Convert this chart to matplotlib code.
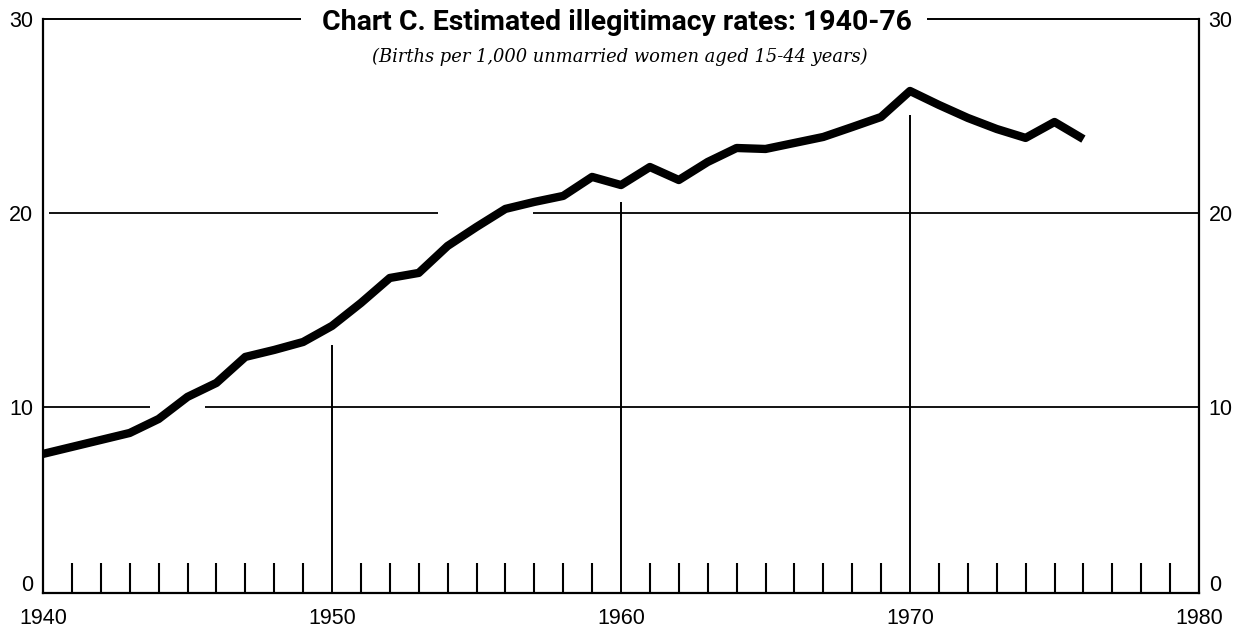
import matplotlib
matplotlib.use("Agg")
import matplotlib.pyplot as plt
from matplotlib.ticker import MultipleLocator

# illegitimacy rate, births per 1,000 unmarried women 15-44
years = list(range(1940, 1977))
rates = [7.58, 7.94, 8.30, 8.66, 9.38, 10.52, 11.24, 12.58, 12.94, 13.35,
         14.18, 15.36, 16.65, 16.91, 18.30, 19.28, 20.21, 20.57, 20.88, 21.86,
         21.44, 22.37, 21.70, 22.63, 23.35, 23.30, 23.61, 23.92, 24.43, 24.95,
         26.29, 25.57, 24.90, 24.33, 23.87, 24.69, 23.81]

# decade rules and the height they reach
decades = [1950, 1960, 1970]
decade_tops = [13.2, 20.57, 25.05]

# horizontal rules, broken where the curve crosses
hrules = [(10, [(1940, 1943.7), (1945.6, 1980)]),
          (20, [(1940.2, 1953.67), (1956.96, 1980)])]

xticks = [1940, 1950, 1960, 1970, 1980]
yticks = [0.93, 10, 20, 30]
ylabels = ["0", "10", "20", "30"]

title = "Chart C. Estimated illegitimacy rates: 1940-76"
subtitle = "(Births per 1,000 unmarried women aged 15-44 years)"

fig = plt.figure(figsize=(12.5, 6.27), dpi=100)
ax = fig.add_axes([43 / 1250, 34 / 627, 1156 / 1250, 574 / 627])
ax.set_xlim(1940, 1980)
ax.set_ylim(0.41, 30)

for y, segs in hrules:
    for x0, x1 in segs:
        ax.plot([x0, x1], [y, y], color="black", lw=1.3, solid_capstyle="butt")

ax.vlines(decades, 0.41, decade_tops, color="black", lw=1.4)

ax.plot(years, rates, color="black", lw=6, solid_capstyle="butt",
        solid_joinstyle="round")

# top border, broken for the title
ax.plot([1940, 1948.93], [30, 30], color="black", lw=1.4, clip_on=False,
        solid_capstyle="butt")
ax.plot([1970.59, 1980], [30, 30], color="black", lw=1.4, clip_on=False,
        solid_capstyle="butt")

ax.spines["top"].set_visible(False)
for s in ["left", "right", "bottom"]:
    ax.spines[s].set_linewidth(1.6)

ax.set_xticks(xticks)
ax.xaxis.set_minor_locator(MultipleLocator(1))
ax.tick_params(axis="x", which="major", length=0, pad=11)
ax.tick_params(axis="x", which="minor", direction="in", length=21.5, width=1.5)
ax.set_yticks(yticks)
ax.set_yticklabels(ylabels)
ax.tick_params(axis="y", length=0, right=True, labelright=True, pad=7)
for lab in ax.get_xticklabels() + ax.get_yticklabels():
    lab.set_family("Liberation Sans")
    lab.set_fontsize(15.5)
for t in ax.yaxis.get_major_ticks():
    t.label2.set_family("Liberation Sans")
    t.label2.set_fontsize(15.5)

fig.text(617 / 1250, 1 - 22 / 627, title, ha="center", va="center",
         family="Roboto", weight="bold", fontsize=20.4)
fig.text(620 / 1250, 1 - 57 / 627, subtitle, ha="center", va="center",
         family="DejaVu Serif", style="italic", fontsize=12.9)

fig.savefig("out.png", dpi=100)
